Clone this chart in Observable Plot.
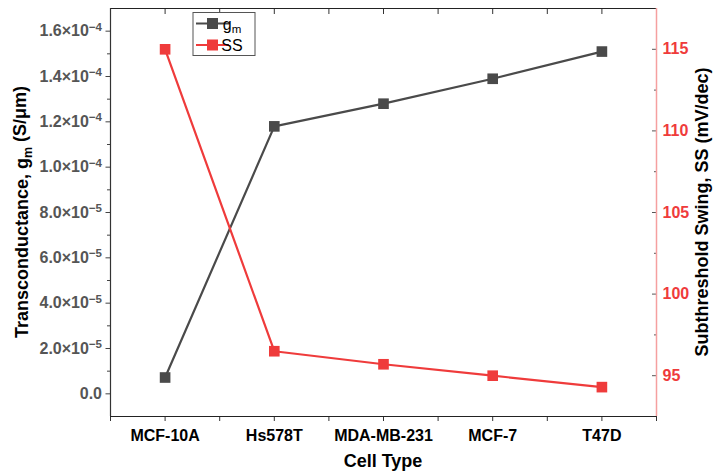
<!DOCTYPE html>
<html><head><meta charset="utf-8">
<script src="https://cdn.jsdelivr.net/npm/d3@7"></script>
<script src="https://cdn.jsdelivr.net/npm/@observablehq/plot@0.6"></script>
<style>
body{margin:0;background:#fff;font-family:"Liberation Sans",Arial,sans-serif}
#chart{position:relative;width:713px;height:473px}
</style></head><body><div id="chart"></div>
<script>
const cellTypes = ["MCF-10A", "Hs578T", "MDA-MB-231", "MCF-7", "T47D"];
const gmValues = [7.2e-6, 1.18e-4, 1.28e-4, 1.39e-4, 1.51e-4];
const ssValues = [115.0, 96.5, 95.7, 95.0, 94.3];
const gmTicks = [0, 2e-5, 4e-5, 6e-5, 8e-5, 1e-4, 1.2e-4, 1.4e-4, 1.6e-4];
const gmMinorTicks = [1e-5, 3e-5, 5e-5, 7e-5, 9e-5, 1.1e-4, 1.3e-4, 1.5e-4];
const ssTicks = [95, 100, 105, 110, 115];
const ssMinorTicks = [97.5, 102.5, 107.5, 112.5];
const seriesNames = ["g|m", "SS"];

const gmDomain = [-1e-5, 1.7e-4];
const ssDomain = [92.5, 117.5];
const GRAY = "#4a4a4a", RED = "#ef3b3b", LIGHTRED = "#f5a0a0";
const ssToY = d3.scaleLinear(ssDomain, gmDomain);

const data = cellTypes.map((c, i) => ({i, c, gm: gmValues[i], ss: ssValues[i]}));
const idx = cellTypes.map((_, i) => i);
const mids = [-0.5].concat(idx.map(i => i + 0.5));

function fmtGm(d) {
  if (Math.abs(d) < 1e-12) return "0.0";
  const e = Math.floor(Math.log10(Math.abs(d)) + 1e-9);
  const m = d / Math.pow(10, e);
  return m.toFixed(1) + "×10|−" + Math.abs(e);
}

const plot = Plot.plot({
  width: 713, height: 473,
  marginLeft: 110, marginRight: 57, marginTop: 8, marginBottom: 57,
  x: {type: "linear", domain: [-0.5, 4.5]},
  y: {domain: gmDomain},
  style: {fontFamily: "'Liberation Sans', Arial, sans-serif", fontSize: "16px", fontWeight: "bold", background: "#fff"},
  marks: [
    Plot.axisX({anchor: "bottom", ticks: idx, tickFormat: i => cellTypes[i], tickSize: 5, tickPadding: 8, label: null, fill: "#000", stroke: "#333", fontSize: 16}),
    Plot.axisX({anchor: "bottom", ticks: mids, tickFormat: () => "", tickSize: 5, label: null, stroke: "#333"}),
    Plot.axisX({anchor: "top", ticks: idx.concat(mids), tickFormat: () => "", tickSize: -5, label: null, stroke: "#333"}),
    Plot.axisY({anchor: "left", ticks: gmTicks, tickFormat: fmtGm, tickSize: 4.5, tickPadding: 4, label: null, fill: "#555", stroke: "#444", fontSize: 16}),
    Plot.axisY({anchor: "left", ticks: gmMinorTicks, tickFormat: () => "", tickSize: 3, label: null, stroke: "#444"}),
    Plot.axisY({anchor: "right", ticks: ssTicks.map(ssToY), tickFormat: d => String(Math.round(ssToY.invert(d))), tickSize: -5, tickPadding: 11, label: null, fill: RED, stroke: "#555", fontSize: 16}),
    Plot.axisY({anchor: "right", ticks: ssMinorTicks.map(ssToY), tickFormat: () => "", tickSize: -3, label: null, stroke: "#555"}),
    Plot.ruleY([gmDomain[1]], {stroke: "#222", strokeWidth: 1.2}),
    Plot.ruleY([gmDomain[0]], {stroke: "#222", strokeWidth: 1.2}),
    Plot.ruleX([-0.5], {stroke: "#333", strokeWidth: 1.2}),
    Plot.ruleX([4.5], {stroke: LIGHTRED, strokeWidth: 1.5}),
    Plot.line(data, {x: "i", y: "gm", stroke: GRAY, strokeWidth: 2.2}),
    Plot.dot(data, {x: "i", y: "gm", symbol: "square", r: 6, fill: GRAY, stroke: "none"}),
    Plot.line(data, {x: "i", y: d => ssToY(d.ss), stroke: RED, strokeWidth: 2.2}),
    Plot.dot(data, {x: "i", y: d => ssToY(d.ss), symbol: "square", r: 6, fill: RED, stroke: "none"})
  ]
});

document.getElementById("chart").appendChild(plot);
const svg = d3.select(plot);

// superscript exponents in tick labels
svg.selectAll("text").each(function() {
  const t = this.textContent;
  if (t.includes("|") && t.includes("×")) {
    const [base, exp] = t.split("|");
    const sel = d3.select(this);
    sel.text(base);
    sel.append("tspan").attr("dy", "-0.5em").attr("font-size", "11.5px").text(exp);
  }
});

// axis titles
const left = svg.append("text")
  .attr("transform", "translate(28,212) rotate(-90)")
  .attr("text-anchor", "middle").attr("font-size", 18).attr("font-weight", "bold")
  .attr("fill", "#000").attr("font-family", "'Liberation Sans', Arial, sans-serif");
left.append("tspan").text("Transconductance, g");
left.append("tspan").attr("dy", "0.3em").attr("font-size", "12.5px").text("m");
left.append("tspan").attr("dy", "-0.3em").text(" (S/μm)");

svg.append("text")
  .attr("transform", "translate(708,212) rotate(-90)")
  .attr("text-anchor", "middle").attr("font-size", 18).attr("font-weight", "bold")
  .attr("fill", "#000").attr("font-family", "'Liberation Sans', Arial, sans-serif")
  .text("Subthreshold Swing, SS (mV/dec)");

svg.append("text")
  .attr("x", 383).attr("y", 467)
  .attr("text-anchor", "middle").attr("font-size", 18).attr("font-weight", "bold")
  .attr("fill", "#000").attr("font-family", "'Liberation Sans', Arial, sans-serif")
  .text("Cell Type");

// legend
const lg = svg.append("g").attr("font-family", "'Liberation Sans', Arial, sans-serif").attr("font-weight", "normal");
lg.append("rect").attr("x", 193).attr("y", 12.5).attr("width", 62).attr("height", 43)
  .attr("fill", "#fff").attr("stroke", "#555").attr("stroke-width", 1);
const colors = [GRAY, RED];
seriesNames.forEach((name, k) => {
  const y = 23.5 + k * 21.5;
  lg.append("line").attr("x1", 196).attr("x2", 229).attr("y1", y).attr("y2", y)
    .attr("stroke", colors[k]).attr("stroke-width", 2.2);
  lg.append("rect").attr("x", 207).attr("y", y - 5.5).attr("width", 11).attr("height", 11).attr("fill", colors[k]);
  const t = lg.append("text").attr("x", 232).attr("y", y + 6).attr("font-size", 16).attr("fill", "#000");
  if (name.includes("|")) {
    const [a, b] = name.split("|");
    t.append("tspan").text(a);
    t.append("tspan").attr("dy", "0.3em").attr("font-size", "11.5px").text(b);
  } else t.text(name);
});
</script></body></html>
